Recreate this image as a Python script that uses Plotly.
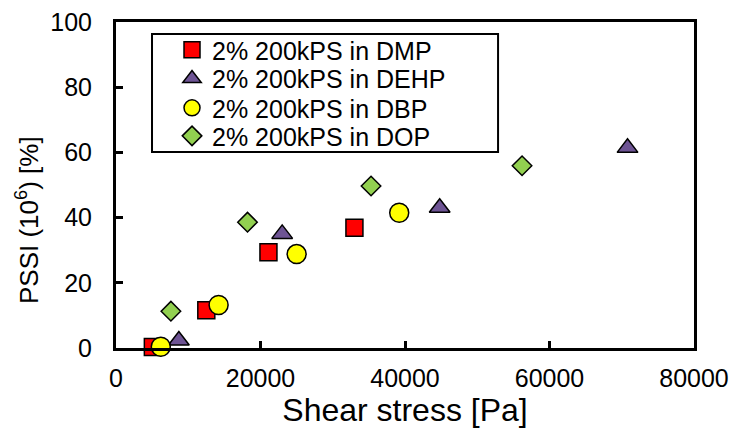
import plotly.graph_objects as go

series_names = ["2% 200kPS in DMP", "2% 200kPS in DEHP", "2% 200kPS in DBP", "2% 200kPS in DOP"]
dmp_x = [5100, 12500, 21100, 33000]
dmp_y = [0.3, 11.6, 29.4, 36.9]
dehp_x = [8700, 23000, 44800, 70800]
dehp_y = [2.3, 35.0, 43.0, 61.4]
dbp_x = [6200, 14200, 25000, 39200]
dbp_y = [0.4, 13.2, 28.8, 41.5]
dop_x = [7600, 18200, 35300, 56200]
dop_y = [11.3, 38.6, 49.7, 55.9]

x_ticks = [0, 20000, 40000, 60000, 80000]
y_ticks = [0, 20, 40, 60, 80, 100]

FONT = "Liberation Sans, Arial, sans-serif"

styles = [
    dict(symbol="square", color="#FF0000", size=17),
    dict(symbol="triangle-up", color="#6E5494", size=18),
    dict(symbol="circle", color="#FFFF00", size=19),
    dict(symbol="diamond", color="#92D050", size=15),
]
data = [(dmp_x, dmp_y), (dehp_x, dehp_y), (dbp_x, dbp_y), (dop_x, dop_y)]

# legend row centres in paper fraction (one legend per entry for tight rows)
legend_rows = [0.914, 0.826, 0.736, 0.650]

fig = go.Figure()
legend_ids = ["legend", "legend2", "legend3", "legend4"]
for name, (xs, ys), st, lid in zip(series_names, data, styles, legend_ids):
    fig.add_trace(go.Scatter(
        x=xs, y=ys, mode="markers", name=name, legend=lid,
        marker=dict(symbol=st["symbol"], color=st["color"], size=st["size"],
                    line=dict(color="black", width=1.5)),
        cliponaxis=False,
    ))

axis_common = dict(
    showline=True, linecolor="black", linewidth=3, mirror=True,
    ticks="inside", ticklen=7, tickwidth=3, tickcolor="black",
    showgrid=False, zeroline=False, automargin=False,
    tickfont=dict(family=FONT, size=25, color="black"),
)

fig.update_xaxes(range=[0, 80000], tickvals=x_ticks, ticktext=[str(v) for v in x_ticks],
                 title=dict(text="Shear stress [Pa]", font=dict(family=FONT, size=32, color="black"), standoff=4),
                 ticklabelstandoff=6, **axis_common)
fig.update_yaxes(range=[0, 100], tickvals=y_ticks, ticktext=[str(v) for v in y_ticks],
                 ticklabelstandoff=16, **axis_common)

legend_common = dict(
    x=0.0623, xanchor="left", yanchor="middle",
    bgcolor="rgba(0,0,0,0)", borderwidth=0, indentation=20,
    font=dict(family=FONT, size=25, color="black"),
    tracegroupgap=0, itemwidth=30,
)
legend_layout = {lid: dict(y=ry, **legend_common) for lid, ry in zip(legend_ids, legend_rows)}

fig.update_layout(
    width=734, height=430,
    margin=dict(l=116, r=40, t=22, b=82),
    paper_bgcolor="white", plot_bgcolor="white",
    showlegend=True,
    shapes=[dict(type="rect", xref="paper", yref="paper",
                 x0=0.0623, x1=0.661, y0=0.601, y1=0.963,
                 line=dict(color="black", width=2), fillcolor="white", layer="below")],
    annotations=[dict(text="PSSI (10<sup>6</sup>) [%]", xref="paper", yref="paper",
                      x=-0.152, y=0.393, xanchor="center", yanchor="middle",
                      textangle=-90, showarrow=False,
                      font=dict(family=FONT, size=26, color="black"))],
    **legend_layout,
)

fig.write_html("out.html", config={"displayModeBar": False},
               post_script="document.body.style.margin='0';document.body.style.padding='0';")
